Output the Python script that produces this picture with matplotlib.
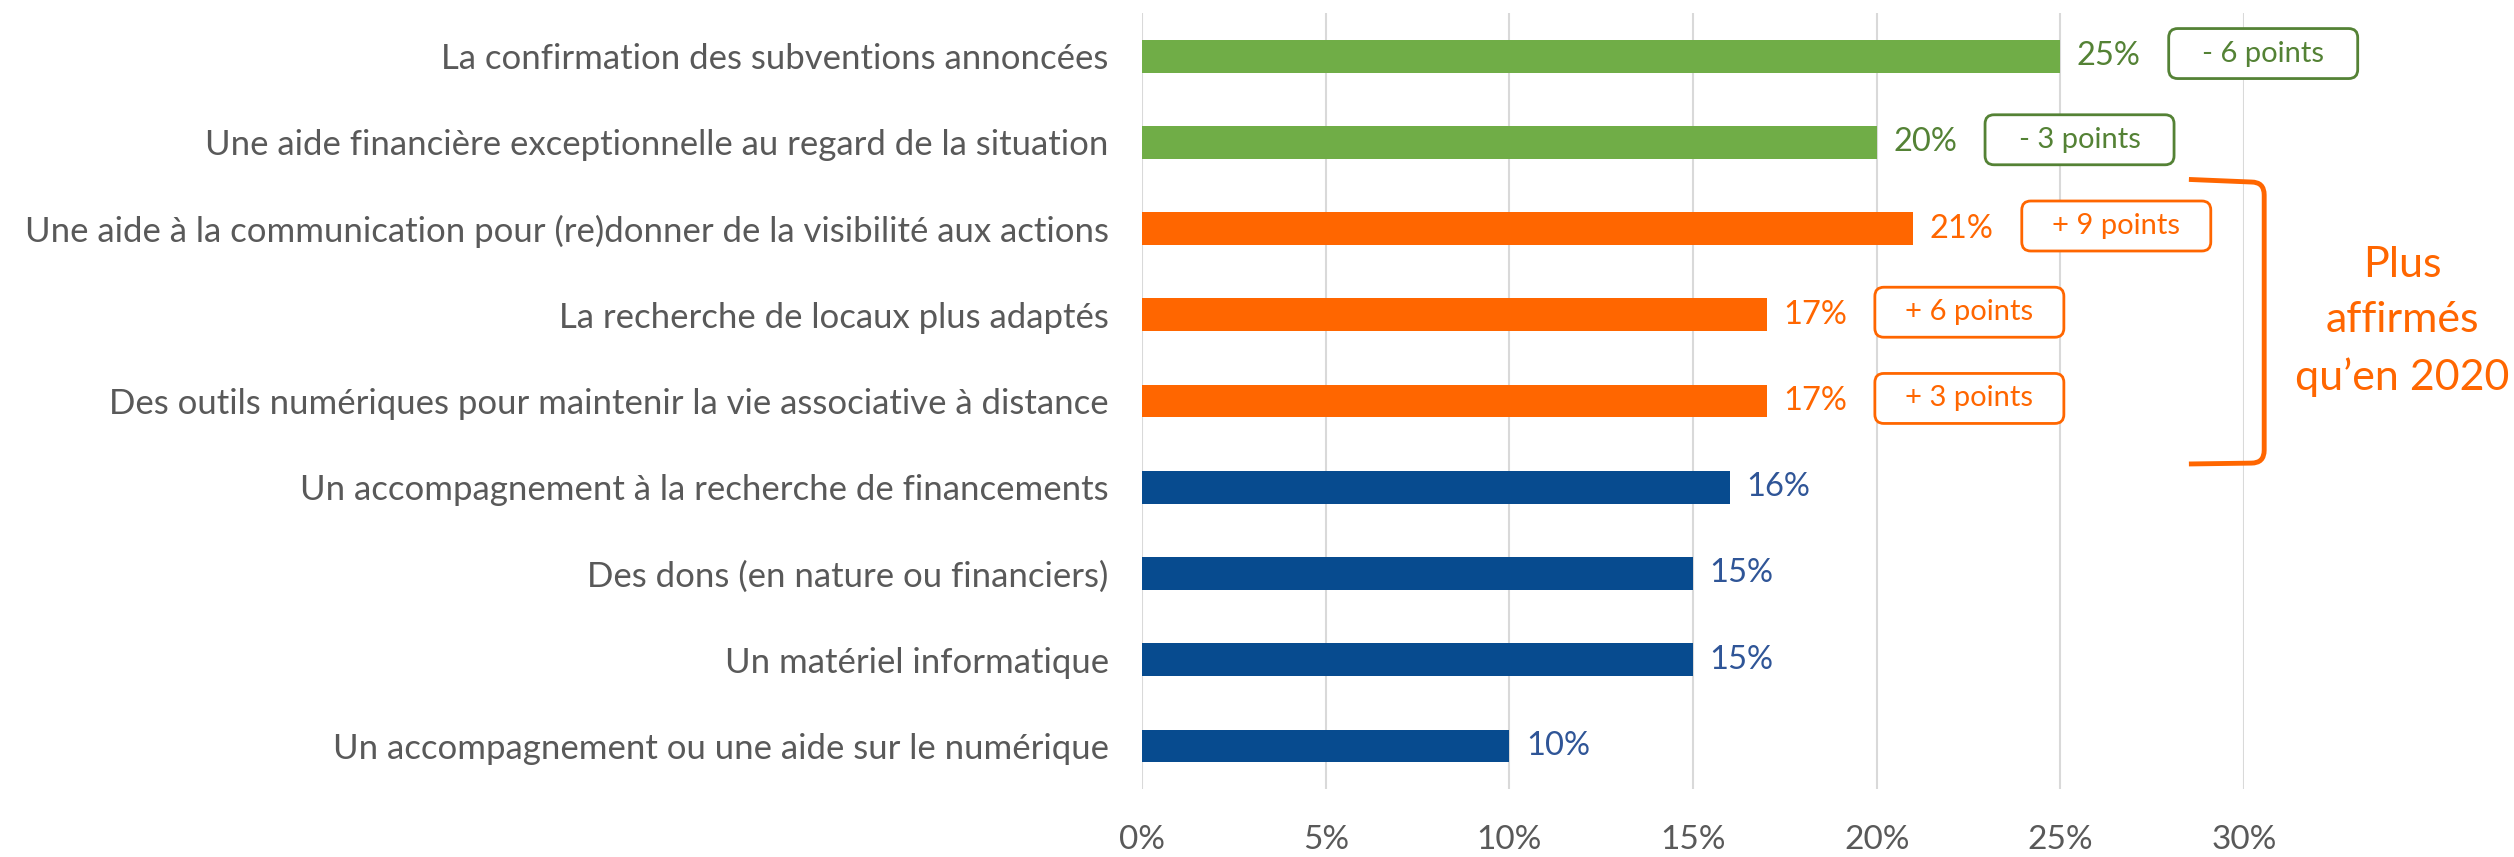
import matplotlib
matplotlib.use("Agg")
import matplotlib.pyplot as plt
from matplotlib.patches import FancyBboxPatch, PathPatch
from matplotlib.path import Path
from matplotlib.transforms import ScaledTranslation

plt.rcParams['font.family'] = ['Lato', 'DejaVu Sans']

categories = [
    "La confirmation des subventions annoncées",
    "Une aide financière exceptionnelle au regard de la situation",
    "Une aide à la communication pour (re)donner de la visibilité aux actions",
    "La recherche de locaux plus adaptés",
    "Des outils numériques pour maintenir la vie associative à distance",
    "Un accompagnement à la recherche de financements",
    "Des dons (en nature ou financiers)",
    "Un matériel informatique",
    "Un accompagnement ou une aide sur le numérique",
]
values = [25, 20, 21, 17, 17, 16, 15, 15, 10]
groups = ["green", "green", "orange", "orange", "orange", "blue", "blue", "blue", "blue"]
changes = ["- 6 points", "- 3 points", "+ 9 points", "+ 6 points", "+ 3 points", None, None, None, None]
xticks = [0, 5, 10, 15, 20, 25, 30]
side_note = "Plus\naffirmés\nqu\u2019en 2020"

bar_colors = {"green": "#70AD47", "orange": "#FF6600", "blue": "#074B8F"}
text_colors = {"green": "#548235", "orange": "#FF6600", "blue": "#2F5597"}
gray = "#595959"

fig = plt.figure(figsize=(25.14, 8.57), dpi=100)
ax = fig.add_axes([0.4543, 0.0793, 0.4383, 0.9055])

ypos = list(range(len(categories)))
ax.barh(ypos, values, height=0.38, color=[bar_colors[g] for g in groups], zorder=3)

ax.set_xlim(0, 30)
ax.set_ylim(len(categories) - 0.5, -0.5)
ax.set_xticks(xticks)
ax.set_xticklabels([f"{t}%" for t in xticks])
ax.set_yticks(ypos)
ax.set_yticklabels(categories)
ax.tick_params(axis='y', length=0, pad=24, labelsize=25, labelcolor=gray)
ax.tick_params(axis='x', length=0, pad=26, labelsize=24, labelcolor=gray)
ax.grid(axis='x', color="#D9D9D9", linewidth=1.5, zorder=0)
for s in ax.spines.values():
    s.set_visible(False)

for y, v, g in zip(ypos, values, groups):
    ax.text(v + 0.45, y, f"{v}%", va='center', ha='left', fontsize=23.5,
            color=text_colors[g])

box_w, box_h = 1.89, 0.50  # inches
for y, v, g, c in zip(ypos, values, groups, changes):
    if c is None:
        continue
    tr = fig.dpi_scale_trans + ScaledTranslation(v + 2.95, y - 0.03, ax.transData)
    patch = FancyBboxPatch((0, -box_h / 2), box_w, box_h,
                           boxstyle="round,pad=0,rounding_size=0.09",
                           transform=tr, facecolor="white",
                           edgecolor=text_colors[g], linewidth=2, clip_on=False, zorder=4)
    ax.add_patch(patch)
    ax.text(box_w / 2, 0, c, transform=tr, ha='center', va='center',
            fontsize=21, color=text_colors[g], zorder=5, clip_on=False)

# bracket
x0, x1 = 28.5, 30.55
yt, yb = 1.46, 4.72
rx, ry = 0.35, 0.15
verts = [(x0, yt - 0.03), (x1 - rx, yt), (x1, yt), (x1, yt + ry),
         (x1, yb - ry), (x1, yb), (x1 - rx, yb), (x0, yb + 0.01)]
codes = [Path.MOVETO, Path.LINETO, Path.CURVE3, Path.CURVE3,
         Path.LINETO, Path.CURVE3, Path.CURVE3, Path.LINETO]
ax.add_patch(PathPatch(Path(verts, codes), facecolor='none', edgecolor="#FF6600",
                       linewidth=3.5, clip_on=False, zorder=4))

ax.text(34.3, 3.08, side_note, ha='center', va='center', fontsize=31,
        color="#FF6600", linespacing=1.55, clip_on=False)

fig.savefig("out.png", dpi=100)
